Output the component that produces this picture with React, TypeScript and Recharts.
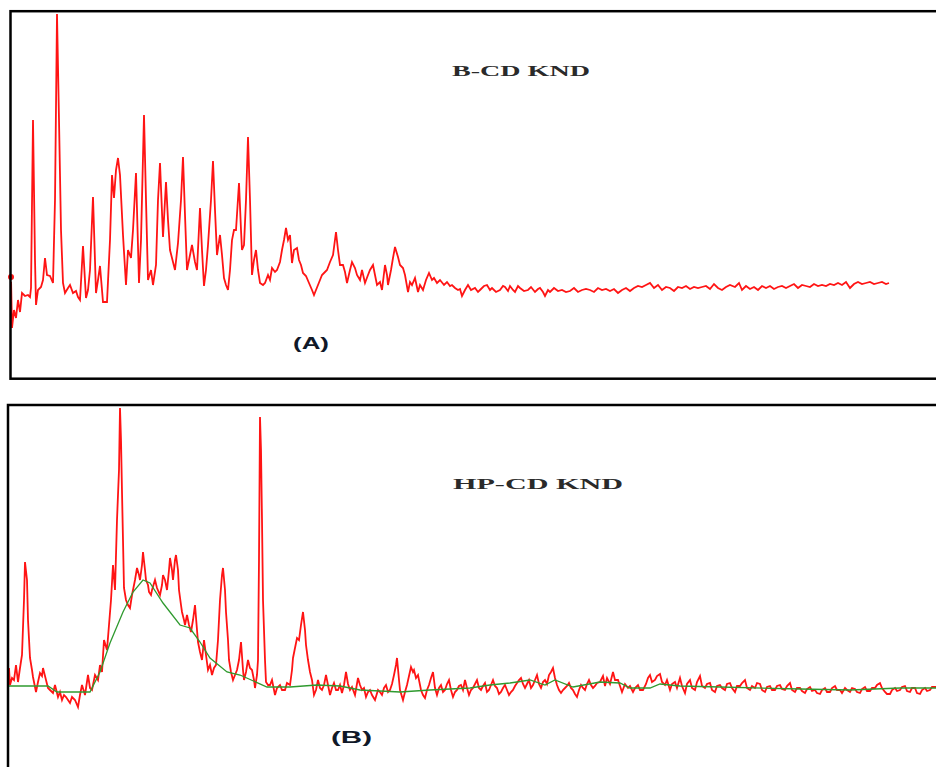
import React from "react";
import { LineChart, Line, XAxis, YAxis } from "recharts";

// Panel A (B-CD KND): [position, intensity]
const patternA: [number, number][] = [
  [11,123],[12,72],[14,90],[16,82],[18,100],[20,88],[22,107],[25,104],[28,105],[30,103],[31,112],[33,280],[35,140],[36,95],[38,110],[41,113],[43,120],[45,142],[47,125],[50,124],[53,117],[55,200],[57,386],[59,280],[61,170],[63,117],[65,107],[68,112],[70,115],[73,107],[76,109],[78,103],[80,100],[83,154],[86,102],[88,110],[90,130],[93,203],[96,107],[98,120],[100,134],[103,98],[107,98],[110,160],[112,225],[114,202],[116,230],[118,242],[120,225],[123,165],[126,115],[128,150],[131,142],[133,170],[136,227],[139,117],[141,160],[144,285],[146,200],[148,120],[151,130],[153,115],[156,135],[158,200],[160,237],[163,163],[166,218],[168,180],[170,150],[173,138],[175,130],[178,157],[181,200],[183,243],[185,185],[187,130],[190,145],[192,155],[195,138],[197,130],[200,192],[202,150],[204,114],[206,130],[208,155],[211,200],[213,239],[215,190],[217,145],[220,165],[222,145],[224,122],[226,115],[228,110],[230,130],[232,160],[234,170],[236,170],[239,217],[241,170],[242,150],[244,155],[246,200],[248,263],[250,200],[252,125],[254,140],[256,150],[258,130],[260,117],[263,115],[265,117],[268,125],[270,120],[272,132],[275,128],[277,130],[280,138],[282,150],[284,160],[286,172],[288,160],[290,165],[292,137],[294,150],[297,152],[299,140],[301,135],[303,127],[306,124],[309,117],[312,110],[314,105],[316,110],[318,115],[320,120],[322,125],[325,128],[327,130],[330,138],[333,145],[336,168],[338,150],[340,135],[343,135],[345,128],[347,117],[350,130],[352,138],[355,132],[357,125],[360,120],[362,130],[365,117],[368,125],[370,130],[373,135],[375,125],[377,115],[380,118],[382,110],[385,135],[387,125],[388,115],[391,130],[393,142],[395,153],[398,143],[400,135],[403,132],[405,125],[408,108],[410,118],[412,115],[415,122],[418,108],[420,115],[423,110],[426,120],[429,127],[432,120],[434,122],[437,117],[440,120],[444,115],[447,118],[450,114],[452,115],[455,112],[458,110],[460,111],[462,104],[465,110],[468,115],[471,110],[475,112],[478,108],[480,110],[484,114],[487,115],[490,110],[492,112],[496,108],[500,110],[503,114],[505,113],[508,109],[510,114],[513,110],[515,108],[518,114],[520,112],[524,109],[528,110],[531,113],[535,108],[538,111],[540,112],[543,108],[545,104],[548,110],[550,108],[554,112],[558,109],[562,110],[566,108],[570,109],[574,112],[578,108],[582,110],[586,111],[590,110],[594,108],[598,112],[602,110],[606,111],[610,109],[614,111],[618,107],[622,110],[626,112],[630,109],[634,112],[638,114],[642,113],[646,115],[650,117],[654,112],[658,115],[662,110],[666,113],[670,112],[674,109],[678,113],[682,112],[686,114],[690,111],[694,113],[698,112],[702,113],[706,114],[710,111],[714,116],[718,112],[722,110],[726,113],[730,115],[735,113],[739,117],[742,110],[746,114],[750,111],[754,113],[758,110],[762,114],[766,112],[770,114],[774,111],[778,113],[782,114],[786,112],[790,114],[794,116],[798,112],[802,115],[806,114],[810,113],[814,116],[818,114],[822,115],[826,114],[830,116],[834,115],[838,117],[842,115],[846,118],[850,112],[854,116],[858,118],[862,116],[866,117],[870,118],[874,116],[878,117],[882,118],[886,116],[889,117]
];

// Panel B (HP-CD KND): [position, intensity]
const patternB: [number, number][] = [
  [9,132],[10,115],[12,122],[14,120],[16,135],[18,118],[20,132],[22,145],[24,200],[25,238],[27,220],[28,180],[30,142],[32,130],[33,123],[36,108],[38,118],[40,127],[42,124],[43,132],[46,120],[48,112],[50,110],[53,107],[55,115],[58,103],[60,108],[62,100],[64,105],[66,103],[68,100],[70,97],[72,103],[75,100],[78,93],[80,105],[82,115],[85,105],[88,125],[90,112],[92,110],[95,125],[98,120],[100,135],[102,128],[104,160],[107,150],[109,175],[111,200],[113,235],[115,210],[117,280],[119,330],[120,392],[121,360],[122,308],[124,212],[126,200],[128,195],[130,192],[132,205],[133,210],[135,220],[137,232],[139,225],[140,220],[142,235],[143,248],[145,230],[146,220],[148,215],[149,208],[151,205],[152,210],[155,220],[157,212],[160,205],[162,215],[163,225],[165,220],[167,210],[169,230],[170,242],[172,230],[173,220],[175,240],[176,245],[178,230],[179,210],[181,195],[182,188],[184,180],[185,175],[187,185],[189,175],[191,168],[193,180],[195,195],[197,170],[198,158],[200,148],[202,140],[204,160],[206,145],[208,130],[210,135],[212,125],[214,132],[216,135],[218,160],[220,200],[222,225],[223,232],[225,210],[226,188],[228,160],[229,140],[231,128],[233,120],[235,125],[237,130],[239,140],[241,158],[243,130],[244,120],[246,128],[248,140],[250,132],[252,130],[254,120],[255,112],[257,125],[258,140],[259,240],[260,383],[261,350],[262,280],[263,200],[265,140],[266,118],[268,115],[270,115],[272,120],[275,105],[277,112],[280,115],[282,110],[285,110],[287,117],[290,115],[292,130],[293,142],[295,152],[297,162],[299,160],[301,175],[303,188],[305,170],[306,155],[308,140],[310,128],[312,120],[314,105],[316,110],[318,120],[320,112],[322,110],[324,115],[326,125],[328,115],[330,105],[332,112],[334,117],[336,110],[338,110],[340,115],[342,107],[344,115],[346,128],[348,116],[350,110],[352,113],[355,105],[358,122],[360,115],[362,110],[364,112],[366,103],[368,108],[370,110],[372,105],[375,100],[378,110],[380,108],[382,105],[384,112],[386,115],[388,108],[390,110],[392,116],[394,125],[396,135],[397,142],[399,120],[400,110],[403,100],[405,108],[407,115],[409,124],[411,133],[413,128],[414,130],[416,122],[418,125],[420,115],[421,110],[423,105],[425,102],[427,110],[429,115],[431,122],[433,128],[435,112],[437,105],[439,112],[441,115],[443,108],[445,110],[447,116],[449,120],[451,110],[453,103],[455,108],[457,110],[459,114],[461,115],[463,110],[465,120],[467,112],[469,105],[471,110],[473,112],[475,116],[477,120],[479,112],[481,110],[483,114],[485,117],[487,108],[489,110],[491,115],[493,120],[495,114],[497,112],[499,106],[501,108],[503,112],[505,115],[507,110],[509,105],[511,108],[513,110],[515,114],[517,117],[519,120],[521,122],[523,116],[525,112],[527,116],[529,120],[531,112],[533,115],[535,120],[537,125],[539,116],[541,112],[543,118],[545,120],[547,116],[549,125],[551,128],[553,132],[555,122],[557,115],[559,110],[561,107],[563,110],[565,112],[567,114],[569,117],[571,112],[573,110],[575,106],[577,103],[579,110],[581,115],[583,112],[585,110],[587,116],[589,120],[591,115],[593,112],[595,114],[597,117],
  [600,118],[603,124],[605,114],[607,122],[610,116],[613,128],[615,120],[618,120],[620,114],[622,108],[625,116],[628,112],[630,114],[633,108],[635,112],[638,115],[640,110],[643,110],[646,116],[648,122],[650,125],[652,118],[655,120],[657,124],[660,126],[662,118],[665,115],[667,120],[670,110],[672,116],[675,118],[677,112],[680,122],[682,114],[685,107],[687,116],[690,120],[692,112],[695,110],[697,118],[700,124],[702,114],[705,112],[707,116],[710,117],[712,110],[715,108],[717,114],[720,115],[722,112],[725,110],[727,116],[730,117],[732,112],[735,108],[737,114],[740,114],[742,117],[745,120],[747,112],[750,110],[752,114],[755,112],[757,117],[760,116],[762,110],[765,108],[767,113],[770,114],[772,110],[775,110],[777,114],[780,115],[782,111],[785,110],[787,114],[790,117],[792,110],[795,108],[797,112],[800,112],[802,109],[805,107],[807,111],[810,113],[812,109],[815,110],[817,107],[820,106],[822,110],[825,112],[827,108],[830,108],[832,112],[835,114],[837,110],[840,110],[842,107],[845,112],[847,110],[850,108],[852,112],[855,111],[857,108],[860,107],[862,111],[865,113],[867,109],[870,109],[872,112],[875,112],[877,115],[880,117],[882,112],[885,108],[887,106],[890,106],[892,110],[895,112],[897,109],[900,110],[902,113],[905,114],[907,109],[910,108],[912,112],[915,112],[917,107],[920,106],[922,110],[925,112],[927,109],[930,110],[932,113],[936,113]
];

// Panel B fitted amorphous background: [position, intensity]
const backgroundB: [number, number][] = [
  [8,114],[48,114],[57,108],[90,108],[100,128],[110,157],[123,188],[133,208],[143,220],[150,217],[163,197],[180,175],[190,172],[200,158],[210,142],[227,128],[240,125],[267,113],[290,113],[317,115],[340,114],[360,110],[400,108],[430,110],[470,112],[490,115],[510,117],[530,120],[545,115],[555,120],[573,113],[600,118],[620,117],[630,112],[650,112],[660,116],[680,114],[720,113],[800,111],[850,110],[900,112],[936,112]
];

const titles = { a: "B-CD KND", b: "HP-CD KND" };
const panelLabels = { a: "(A)", b: "(B)" };

const toRows = (arr: [number, number][]) => arr.map(([x, y]) => ({ x, y }));

const W = 936;
const H = 767;

export default function App() {
  const rowsA = toRows(patternA);
  const rowsB = toRows(patternB);
  const rowsBg = toRows(backgroundB);
  return (
    <div style={{ position: "absolute", left: 0, top: 0, width: W, height: H, overflow: "hidden", background: "#fff" }}>
      <div style={{ position: "absolute", left: 0, top: 0 }}>
        <LineChart width={W} height={400} data={rowsA} margin={{ top: 0, right: 0, bottom: 0, left: 0 }}>
          <XAxis type="number" dataKey="x" domain={[0, W]} hide />
          <YAxis type="number" domain={[0, 400]} hide />
          <Line type="linear" dataKey="y" stroke="#ff1414" strokeWidth={1.8} dot={false} isAnimationActive={false} />
        </LineChart>
      </div>
      <div style={{ position: "absolute", left: 0, top: 400 }}>
        <LineChart width={W} height={400} margin={{ top: 0, right: 0, bottom: 0, left: 0 }}>
          <XAxis type="number" dataKey="x" domain={[0, W]} hide />
          <YAxis type="number" domain={[0, 400]} hide />
          <Line data={rowsB} type="linear" dataKey="y" stroke="#ff1414" strokeWidth={1.8} dot={false} isAnimationActive={false} />
          <Line data={rowsBg} type="linear" dataKey="y" stroke="#2f9a2f" strokeWidth={1.3} dot={false} isAnimationActive={false} />
        </LineChart>
      </div>
      <svg width={W} height={H} style={{ position: "absolute", left: 0, top: 0, pointerEvents: "none" }}>
        <rect x={10.5} y={11.2} width={940} height={367.5} fill="none" stroke="#000" strokeWidth={2.5} />
        <rect x={8} y={405} width={940} height={400} fill="none" stroke="#000" strokeWidth={2.5} />
        <text x={452} y={75.5} textLength={138} lengthAdjust="spacingAndGlyphs" fontFamily="Liberation Serif, serif" fontWeight="bold" fontSize={15} fill="#2a2a2a">{titles.a}</text>
        <text x={293} y={349} textLength={36} lengthAdjust="spacingAndGlyphs" fontFamily="Liberation Sans, Arial, sans-serif" fontWeight="bold" fontSize={16} fill="#101828">{panelLabels.a}</text>
        <text x={453} y={488.5} textLength={170} lengthAdjust="spacingAndGlyphs" fontFamily="Liberation Serif, serif" fontWeight="bold" fontSize={15} fill="#2a2a2a">{titles.b}</text>
        <text x={331} y={743} textLength={41} lengthAdjust="spacingAndGlyphs" fontFamily="Liberation Sans, Arial, sans-serif" fontWeight="bold" fontSize={16} fill="#101828">{panelLabels.b}</text>
      </svg>
    </div>
  );
}
